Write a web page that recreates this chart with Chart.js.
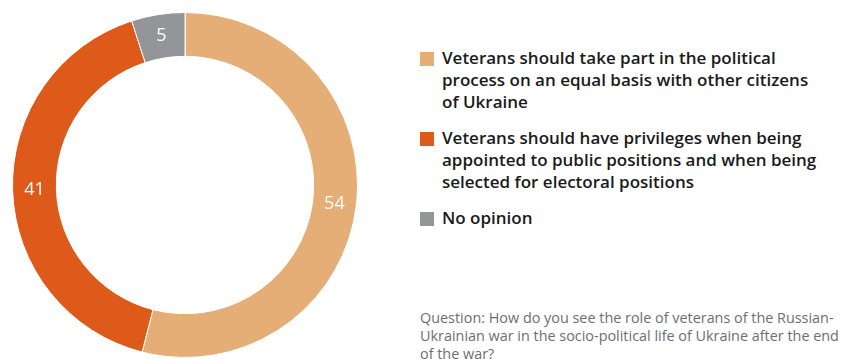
<!DOCTYPE html>
<html>
<head>
<meta charset="utf-8">
<script src="https://cdn.jsdelivr.net/npm/chart.js@4"></script>
<style>
  html, body { margin: 0; padding: 0; background: #fff; overflow: hidden; }
  body { width: 846px; height: 359px; position: relative; font-family: "Open Sans", sans-serif; }
  #chart-box { position: absolute; left: 12px; top: 12px; width: 346px; height: 346px; }
  #legend { position: absolute; left: 420px; top: 47px; width: 420px; }
  .item { display: flex; align-items: flex-start; margin-bottom: 14px; }
  .box { width: 14px; height: 14px; flex: none; margin-top: 5px; margin-right: 8px; }
  .label { width: 380px; font-size: 17px; font-weight: 600; line-height: 22px; color: #1a1a1a; }
  #question { position: absolute; left: 420px; top: 309px; width: 426px; font-size: 14.4px; line-height: 18px; color: #6d6e71; }
</style>
</head>
<body>
<div id="chart-box"><canvas id="canvas"></canvas></div>
<div id="legend"></div>
<div id="question"></div>
<script>
var categories = [
    "Veterans should take part in the political process on an equal basis with other citizens of Ukraine",
    "Veterans should have privileges when being appointed to public positions and when being selected for electoral positions",
    "No opinion"
]
var values = [54, 41, 5]
var colors = ["#e4ae76", "#de5a1a", "#939598"]
var question = "Question: How do you see the role of veterans of the Russian-Ukrainian war in the socio-political life of Ukraine after the end of the war?"

// legend on the right
var legend = document.getElementById("legend")
for (let i in categories) {
    legend.innerHTML += `<div class="item"><div class="box" style="background:${colors[i]}"></div><div class="label">${categories[i]}</div></div>`
}
document.getElementById("question").textContent = question

const valueLabels = {
    id: 'valueLabels',
    afterDatasetsDraw: (chart) => {
        const { ctx } = chart
        const meta = chart.getDatasetMeta(0)
        ctx.save()
        ctx.fillStyle = '#ffffff'
        ctx.font = '500 18px "Open Sans"'
        ctx.textAlign = 'center'
        ctx.textBaseline = 'middle'
        meta.data.forEach((arc, i) => {
            const p = arc.getProps(['x', 'y', 'startAngle', 'endAngle', 'innerRadius', 'outerRadius'], true)
            const a = (p.startAngle + p.endAngle) / 2
            const r = (p.innerRadius + p.outerRadius) / 2
            ctx.fillText(values[i], p.x + Math.cos(a) * r, p.y + Math.sin(a) * r)
        })
        ctx.restore()
    }
}

var chart = new Chart(document.getElementById("canvas"), {
    type: 'doughnut',
    data: {
        labels: categories,
        datasets: [{
            data: values,
            backgroundColor: colors,
            borderColor: '#ffffff',
            borderWidth: 1
        }]
    },
    options: {
        responsive: true,
        maintainAspectRatio: false,
        cutout: '74.6%',
        animation: false,
        layout: { padding: 0 },
        plugins: {
            legend: { display: false },
            tooltip: { enabled: false }
        }
    },
    plugins: [valueLabels]
})
</script>
</body>
</html>
